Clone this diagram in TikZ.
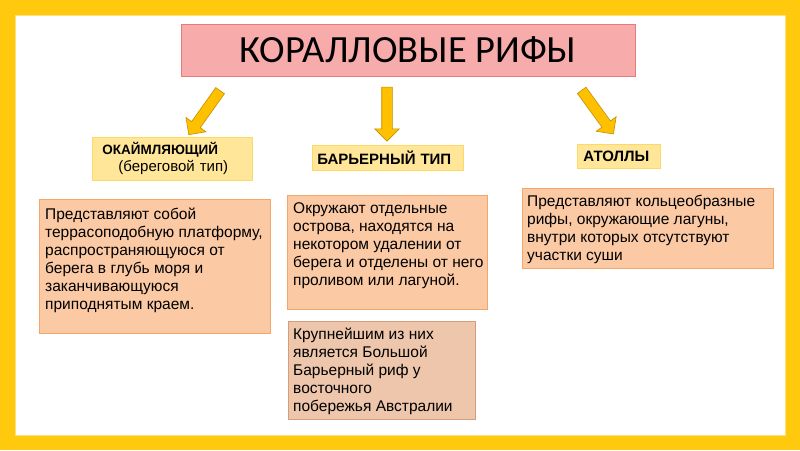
\documentclass[tikz,border=0pt]{standalone}
\usepackage{fontspec}
\setmainfont{Liberation Sans}
\newfontfamily\titlefont{Carlito}
\usetikzlibrary{shapes.arrows,positioning}

\definecolor{frameyellow}{HTML}{FFC90E}
\definecolor{framelight}{HTML}{FFE27A}
\definecolor{titlefill}{HTML}{F8ABAB}
\definecolor{titledraw}{HTML}{E57B7B}
\definecolor{arrowfill}{HTML}{FFC000}
\definecolor{arrowdraw}{HTML}{C09000}
\definecolor{labelfill}{HTML}{FFE699}
\definecolor{labeldraw}{HTML}{FFD966}
\definecolor{descfill}{HTML}{FBC9A4}
\definecolor{descdraw}{HTML}{F2A66A}
\definecolor{notefill}{HTML}{EDC6AB}
\definecolor{notedraw}{HTML}{D89C78}

\begin{document}
\begin{tikzpicture}[x=1pt,y=-1pt,
  titlebox/.style={draw=titledraw,fill=titlefill,line width=0.8pt,
    minimum width=454pt,minimum height=52pt,
    font=\titlefont\fontsize{38.5}{40}\selectfont},
  blockarrow/.style={single arrow,draw=arrowdraw,fill=arrowfill,line width=0.6pt,
    minimum height=54pt,single arrow head extend=7pt,
    inner xsep=0pt,inner ysep=5pt,sloped,allow upside down},
  labelbox/.style={draw=labeldraw,fill=labelfill,line width=0.8pt,anchor=north west,
    inner ysep=0pt,align=left,font=\fontsize{15}{17}\selectfont},
  descbox/.style={draw=descdraw,fill=descfill,line width=0.8pt,anchor=north west,inner sep=0pt},
  notebox/.style={descbox,draw=notedraw,fill=notefill},
  desctext/.style={align=left,inner sep=0pt,font=\fontsize{15.5}{18}\selectfont}]
  \useasboundingbox (0,0) rectangle (800,450);
  % yellow frame
  \fill[frameyellow] (0,0) rectangle (800,450);
  \fill[white] (15,15) rectangle (785,435);
  \draw[framelight,line width=1pt] (15,15) rectangle (785,435);
  % title
  \node[titlebox] (kor) at (408,50) {КОРАЛЛОВЫЕ РИФЫ};
  % arrows down to the three types
  \coordinate (lt) at (222,88);  \coordinate (lh) at (190,133);
  \coordinate (mt) at (387,85);  \coordinate (mh) at (387,138);
  \coordinate (rt) at (580,88);  \coordinate (rh) at (612,132);
  \path (lt) -- (lh) node[blockarrow,midway] (al) {};
  \path (mt) -- (mh) node[blockarrow,midway] (am) {};
  \path (rt) -- (rh) node[blockarrow,midway] (ar) {};
  % type labels
  \node[labelbox,inner xsep=10pt,text width=140pt,minimum height=43pt] (okl) at (92,137)
    {{\fontsize{13.5}{17}\selectfont\textbf{ОКАЙМЛЯЮЩИЙ}}\\\hspace*{16pt}(береговой тип)};
  \node[labelbox,inner xsep=5pt,text width=141pt,minimum height=25pt] (bar) at (312,145)
    {\textbf{БАРЬЕРНЫЙ ТИП}};
  \node[labelbox,inner xsep=6pt,text width=71pt,minimum height=24pt] (atl) at (577,144)
    {\textbf{АТОЛЛЫ}};
  % descriptions
  \node[descbox,minimum width=231pt,minimum height=134pt] (okd) at (39,199) {};
  \node[desctext,below right=9pt and 6pt of okd.north west] (okt)
    {Представляют собой\\террасоподобную платформу,\\распространяющуюся от\\берега в глубь моря и\\заканчивающуюся\\приподнятым краем.};
  \node[descbox,minimum width=200pt,minimum height=114pt] (bard) at (287,195) {};
  \node[desctext,below right=7pt and 6pt of bard.north west] (bart)
    {Окружают отдельные\\острова, находятся на\\некотором удалении от\\берега и отделены от него\\проливом или лагуной.};
  \node[notebox,minimum width=187pt,minimum height=98pt] (bign) at (288,321) {};
  \node[desctext,below right=7pt and 5pt of bign.north west] (bigt)
    {Крупнейшим из них\\является Большой\\Барьерный риф у\\восточного\\побережья Австралии};
  \node[descbox,minimum width=251pt,minimum height=80pt] (atd) at (522,188) {};
  \node[desctext,below right=7pt and 5pt of atd.north west] (att)
    {Представляют кольцеобразные\\рифы, окружающие лагуны,\\внутри которых отсутствуют\\участки суши};
\end{tikzpicture}
\end{document}
